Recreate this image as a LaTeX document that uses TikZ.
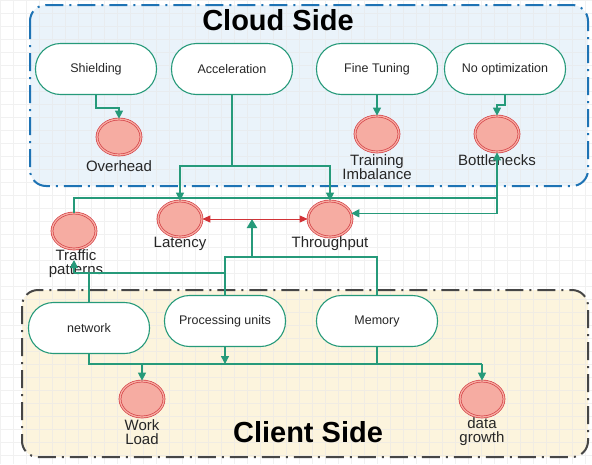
\documentclass[tikz,border=0pt]{standalone}
\usepackage{fontspec}
\setmainfont{Liberation Sans}
\usetikzlibrary{arrows.meta,shapes.geometric,calc}
\definecolor{gline}{RGB}{38,154,122}
\definecolor{pinkc}{RGB}{246,172,162}
\definecolor{redc}{RGB}{212,64,70}
\definecolor{cloudfill}{RGB}{234,243,250}
\definecolor{clouddraw}{RGB}{30,115,180}
\definecolor{clientfill}{RGB}{252,244,221}
\definecolor{clientdraw}{RGB}{70,70,70}
\definecolor{gridc}{RGB}{232,232,232}
\definecolor{redarrc}{RGB}{210,50,55}
\tikzset{
  proc/.style={draw=gline, line width=1.1pt, fill=white, rounded corners=25pt,
    minimum width=121pt, minimum height=51pt, inner sep=0pt,
    font=\fontsize{12.5}{14}\selectfont, text=black!85},
  issue/.style={ellipse, draw=redc, line width=0.7pt, double=pinkc, double distance=1.3pt,
    fill=pinkc, minimum width=44pt, minimum height=36pt, inner sep=0pt},
  lbl/.style={font=\fontsize{15}{14}\selectfont, align=center, inner sep=0pt, text=black!85},
  title/.style={font=\fontsize{29}{30}\bfseries\selectfont, inner sep=0pt, text=black},
  conn/.style={draw=gline, line width=1.2pt},
  arr/.style={conn, -{Triangle[width=8pt,length=8pt]}},
  bigarr/.style={draw=gline, line width=2.6pt, -{Triangle[width=10pt,length=9pt]}},
  redarr/.style={draw=redarrc, line width=1pt, {Triangle[width=7pt,length=8pt]}-{Triangle[width=7pt,length=8pt]}},
  zone/.style={line width=2pt, rounded corners=16pt, dash pattern=on 18pt off 6pt on 2pt off 6pt}
}
\begin{document}
\begin{tikzpicture}[x=1pt,y=-1pt]
\useasboundingbox (0,0) rectangle (592,464);
\fill[white] (0,0) rectangle (592,464);
% zones
\path[zone, fill=cloudfill] (30,5) rectangle (588,186);
\path[zone, fill=clientfill] (22,290) rectangle (588,457);
% grid
\draw[gridc, line width=0.4pt, opacity=0.6] (0,0) grid[step=13pt] (592,464);
\draw[zone, draw=clouddraw] (30,5) rectangle (588,186);
\draw[zone, draw=clientdraw] (22,290) rectangle (588,457);
% titles
\node[title] (cloudt) at (278,20) {Cloud Side};
\node[title] (clientt) at (308,432) {Client Side};
% cloud nodes
\node[proc] (shield) at (96,69) {Shielding};
\node[proc] (accel) at (232,69) {Acceleration};
\node[proc] (fine) at (377,69) {Fine Tuning};
\node[proc] (noopt) at (505,69) {No optimization};
% cloud issues
\node[issue] (over) at (119,137) {};
\node[lbl] (overl) at (119,166) {Overhead};
\node[issue] (train) at (377,134) {};
\node[lbl] (trainl) at (377,167) {Training\\Imbalance};
\node[issue] (bott) at (497,134) {};
\node[lbl] (bottl) at (497,160) {Bottlenecks};
% middle issues
\node[issue] (lat) at (180,219) {};
\node[lbl] (latl) at (180,244) {Latency};
\node[issue] (thr) at (330,219) {};
\node[lbl] (thrl) at (330,244) {Throughput};
\node[issue] (traf) at (74,231) {};
\node[lbl] (trafl) at (76,264) {Traffic\\patterns};
% client nodes
\node[proc] (net) at (89,328) {network};
\node[proc] (pu) at (225,321) {Processing units};
\node[proc] (mem) at (377,321) {Memory};
% client issues
\node[issue] (work) at (142,399) {};
\node[lbl] (workl) at (142,432) {Work\\Load};
\node[issue] (grow) at (482,399) {};
\node[lbl] (growl) at (482,432) {data\\growth};
% coordinates
\coordinate (a1) at (232,166);
\coordinate (c2) at (497,198);
\coordinate (c4) at (225,257);
\coordinate (c5) at (252,257);
\coordinate (c6) at (252,219);
\coordinate (c7) at (225,273);
\coordinate (c8) at (74,273);
\coordinate (c9) at (74,260);
\coordinate (d1) at (89,364);
\coordinate (d2) at (142,364);
\coordinate (d3) at (225,364);
\coordinate (d4) at (377,364);
\coordinate (d5) at (482,364);
% cloud connectors
\draw[arr] (shield.south) -- ++(0,13) -| (over.north);
\draw[arr] (fine.south) -- (train.north);
\draw[arr] (noopt.south) -- ++(0,10) -| (bott.north);
\draw[conn] (accel.south) -- (a1);
\draw[arr] (a1) -| (lat.north);
\draw[arr] (a1) -| (thr.north);
% middle connectors
\draw[arr] (traf.north) |- (c2) -- (bott.south);
\draw[arr] (c2) |- (thr.15);
\draw[redarr] (lat.east) -- (thr.west);
\draw[conn] (pu.north) -- (c4) -| (mem.north);
\draw[bigarr] (c5) -- (c6);
\draw[conn] (c7) -- (c8);
\draw[arr] (c8) -- (c9);
\draw[conn] (net.north) -- (net.north |- c8);
% client connectors
\draw[conn] (net.south) -- (d1) -- (d5);
\draw[arr] (d2) -- (work.north);
\draw[arr] (d5) -- (grow.north);
\draw[arr] (pu.south) -- (d3);
\draw[conn] (mem.south) -- (d4);
\end{tikzpicture}
\end{document}
